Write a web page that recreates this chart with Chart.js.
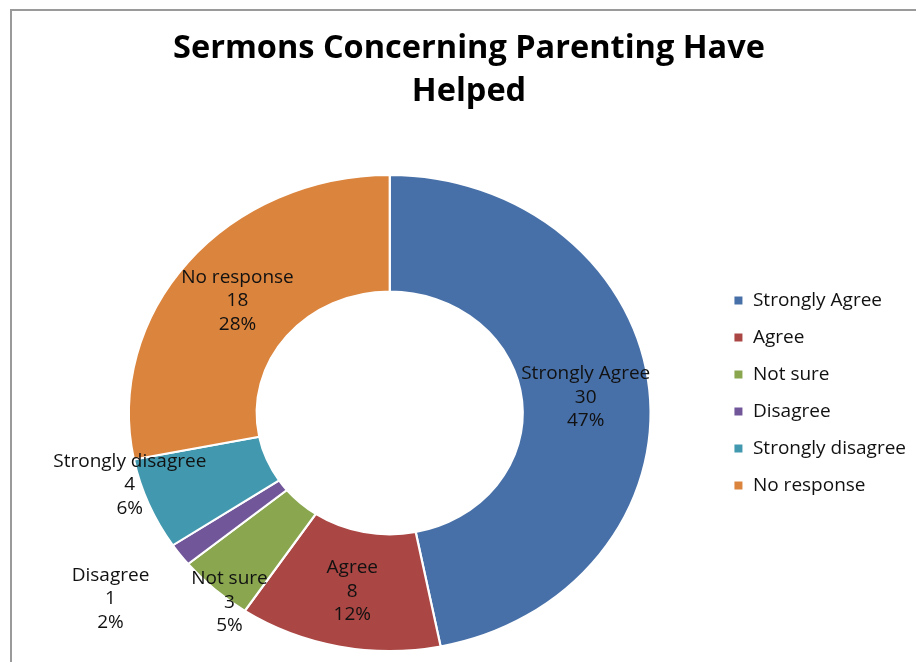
<!DOCTYPE html>
<html>
<head>
<meta charset="utf-8">
<script src="https://cdn.jsdelivr.net/npm/chart.js@4/dist/chart.umd.min.js"></script>
<style>
  html, body { margin: 0; padding: 0; background: #fff; overflow: hidden; }
  #wrap { position: relative; width: 916px; height: 662px; }
</style>
</head>
<body>
<div id="wrap"><canvas id="c" width="916" height="662"></canvas></div>
<script>
// Survey responses
const categories = ['Strongly Agree', 'Agree', 'Not sure', 'Disagree', 'Strongly disagree', 'No response'];
const responses = [30, 8, 3, 1, 4, 18];
const sliceColors = ['#4870A8', '#AA4643', '#8AA750', '#71579A', '#4299AF', '#DB843D'];
const titleLines = ['Sermons Concerning Parenting Have', 'Helped'];

const FONT = "'Open Sans', 'DejaVu Sans', sans-serif";

// Whole-number percentages that add up to 100 (largest remainder)
function roundedPercents(values) {
  const total = values.reduce((a, b) => a + b, 0);
  const raw = values.map(v => v / total * 100);
  const out = raw.map(Math.floor);
  const left = 100 - out.reduce((a, b) => a + b, 0);
  const order = raw.map((r, i) => [r - Math.floor(r), i]).sort((a, b) => b[0] - a[0]);
  for (let k = 0; k < left; k++) out[order[k][1]] += 1;
  return out;
}
const percents = roundedPercents(responses);

// Light grey frame around the chart
const framePlugin = {
  id: 'frame',
  beforeDraw(chart) {
    const ctx = chart.ctx;
    ctx.save();
    ctx.strokeStyle = '#9a9a9a';
    ctx.lineWidth = 2;
    ctx.beginPath();
    ctx.moveTo(11, chart.height + 5);
    ctx.lineTo(11, 10);
    ctx.lineTo(chart.width + 5, 10);
    ctx.stroke();
    ctx.restore();
  }
};

// Draws the ring slightly widened and nudged right, then writes the slice labels
const ringPlugin = {
  id: 'ring',
  beforeDatasetsDraw(chart, args, opts) {
    const arc = chart.getDatasetMeta(0).data[0];
    if (!arc) return;
    const ctx = chart.ctx;
    ctx.save();
    ctx.translate(arc.x + opts.shiftX, arc.y);
    ctx.scale(opts.stretchX, 1);
    ctx.translate(-arc.x, -arc.y);
  },
  afterDatasetsDraw(chart, args, opts) {
    const ctx = chart.ctx;
    ctx.restore();
    const meta = chart.getDatasetMeta(0);
    ctx.save();
    ctx.font = opts.fontSize + 'px ' + FONT;
    ctx.fillStyle = '#111';
    ctx.textAlign = 'center';
    ctx.textBaseline = 'middle';
    meta.data.forEach((arc, i) => {
      const p = arc.getProps(['x', 'y', 'startAngle', 'endAngle', 'innerRadius', 'outerRadius'], true);
      const mid = (p.startAngle + p.endAngle) / 2;
      const r = (p.innerRadius + p.outerRadius) / 2;
      const off = opts.offsets[i] || [0, 0];
      const cx = p.x + opts.shiftX + Math.cos(mid) * r * opts.stretchX + off[0];
      const cy = p.y + Math.sin(mid) * r + off[1];
      const lines = [categories[i], String(responses[i]), percents[i] + '%'];
      lines.forEach((t, k) => ctx.fillText(t, cx, cy + (k - 1) * opts.lineHeight));
    });
    ctx.restore();
  }
};

new Chart(document.getElementById('c'), {
  type: 'doughnut',
  data: {
    labels: categories,
    datasets: [{
      data: responses,
      backgroundColor: sliceColors,
      borderColor: '#ffffff',
      borderWidth: 2,
      clip: false
    }]
  },
  options: {
    responsive: false,
    animation: false,
    devicePixelRatio: 1,
    cutout: '51%',
    layout: { padding: { left: 22, right: 0, top: 0, bottom: 10 } },
    plugins: {
      title: {
        display: true,
        text: titleLines,
        color: '#000',
        font: { family: FONT, size: 32.5, weight: 'bold', lineHeight: 43 / 32.5 },
        padding: { top: 27, bottom: 61 }
      },
      legend: {
        position: 'right',
        align: 'start',
        fullSize: false,
        title: { display: true, text: '', font: { size: 10, lineHeight: 1 }, padding: { top: 89, bottom: 0 } },
        labels: {
          boxWidth: 10,
          boxHeight: 10,
          padding: 18,
          color: '#111',
          font: { family: FONT, size: 19 }
        }
      },
      tooltip: { enabled: false },
      ring: {
        shiftX: 21,
        stretchX: 1.096,
        fontSize: 19,
        lineHeight: 23.5,
        offsets: [[0, 2], [1, 2], [-28, 56], [-121, 79], [-78, 3], [0, 2]]
      }
    }
  },
  plugins: [framePlugin, ringPlugin]
});
</script>
</body>
</html>
